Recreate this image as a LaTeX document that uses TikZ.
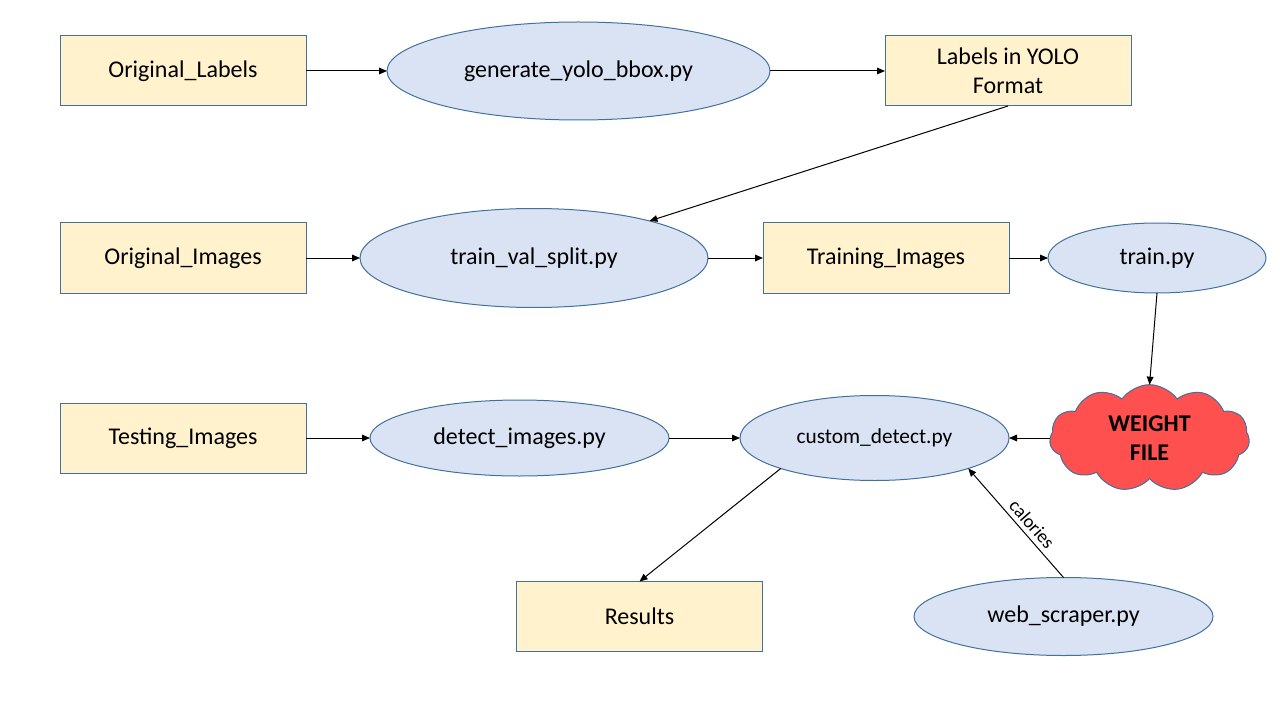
\documentclass[tikz,border=0pt]{standalone}
\usepackage{fontspec}
\setmainfont{Carlito}
\usetikzlibrary{arrows.meta,positioning,shapes.geometric,shapes.symbols}

\definecolor{boxfill}{HTML}{FFF2CC}
\definecolor{ovalfill}{HTML}{DAE3F3}
\definecolor{edgeblue}{HTML}{41719C}
\definecolor{cloudred}{HTML}{FF5050}

\begin{document}
\begin{tikzpicture}[
    font=\fontsize{18}{21.6}\selectfont,
    box/.style={
        draw=edgeblue,
        fill=boxfill,
        line width=0.75pt,
        align=center,
        minimum width=184.5pt,
        minimum height=52.5pt,
        inner sep=2pt,
        outer sep=0pt
    },
    oval/.style={
        ellipse,
        draw=edgeblue,
        fill=ovalfill,
        line width=0.75pt,
        align=center,
        inner sep=1pt,
        outer sep=0pt
    },
    weight/.style={
        cloud,
        cloud puffs=11,
        cloud puff arc=110,
        aspect=1.8,
        draw=edgeblue,
        fill=cloudred,
        line width=0.75pt,
        align=center,
        font=\fontsize{18}{21.6}\selectfont\bfseries,
        minimum width=150pt,
        minimum height=80pt,
        inner sep=0pt,
        outer sep=0pt
    },
    arrow/.style={
        -{Triangle[length=6pt,width=5pt]},
        line width=0.75pt
    }
]

\useasboundingbox (0,0) rectangle (960pt,-540pt);

% ------------------------------------------------------------------
% Label preparation
% ------------------------------------------------------------------

\node[box] (origlabels) at (137.25pt,-53.25pt)
    {Original\_Labels};

\node[oval, minimum width=287.25pt, minimum height=73.5pt,
      right=60.75pt of origlabels] (genbbox)
    {generate\_yolo\_bbox.py};

\node[box, right=86.25pt of genbbox] (yololabels)
    {Labels in YOLO\\Format};

\draw[arrow] (origlabels) -- (genbbox);
\draw[arrow] (genbbox) -- (yololabels);

% ------------------------------------------------------------------
% Training
% ------------------------------------------------------------------

\node[box, below=87.75pt of origlabels] (origimages)
    {Original\_Images};

\node[oval, minimum width=261pt, minimum height=74.25pt,
      right=40.5pt of origimages] (valsplit)
    {train\_val\_split.py};

\node[box, right=41.25pt of valsplit] (trainimages)
    {Training\_Images};

\node[oval, minimum width=163.5pt, minimum height=52.5pt,
      right=29.25pt of trainimages] (trainpy)
    {train.py};

\draw[arrow] (yololabels.south) -- (valsplit);
\draw[arrow] (origimages) -- (valsplit);
\draw[arrow] (valsplit) -- (trainimages);
\draw[arrow] (trainimages) -- (trainpy);

% ------------------------------------------------------------------
% Detection
% ------------------------------------------------------------------

\node[box, below=82.5pt of origimages] (testimages)
    {Testing\_Images};

\node[oval, minimum width=224.25pt, minimum height=57pt,
      right=48pt of testimages] (detimages)
    {detect\_images.py};

\node[oval, minimum width=201.75pt, minimum height=63.75pt,
      font=\fontsize{16}{19.2}\selectfont,
      right=53.25pt of detimages] (customdet)
    {custom\_detect.py};

\node[weight, right=30.75pt of customdet] (weightfile)
    {WEIGHT\\FILE};

\draw[arrow] (testimages) -- (detimages);
\draw[arrow] (detimages) -- (customdet);
\draw[arrow] (trainpy.south) -- (weightfile.north);
\draw[arrow] (weightfile.west) -- (customdet.east);

% ------------------------------------------------------------------
% Output and scraping
% ------------------------------------------------------------------

\node[box, below=75.75pt of customdet, xshift=-176.25pt] (results)
    {Results};

\node[oval, minimum width=224.25pt, minimum height=58.5pt,
      below=72.75pt of customdet, xshift=141.75pt] (scraper)
    {web\_scraper.py};

\draw[arrow] (customdet.198) -- (results.north);
\draw[arrow] (scraper.north) -- node[pos=0.42, sloped, above,
    font=\fontsize{14}{16.8}\selectfont] {calories} (customdet.342);

\end{tikzpicture}
\end{document}
